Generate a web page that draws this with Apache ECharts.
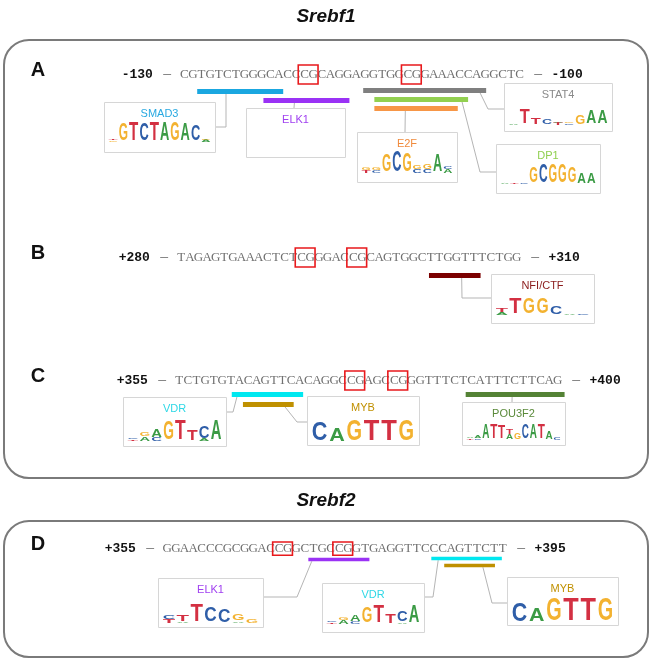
<!DOCTYPE html>
<html><head><meta charset="utf-8">
<script src="https://cdn.jsdelivr.net/npm/echarts@6/dist/echarts.min.js"></script>
<style>html,body{margin:0;padding:0;background:#fff}#c{width:653px;height:661px}</style>
</head><body><div id="c"></div>
<script>
// ---------------- DATA ----------------
const panelLetters = ['A', 'B', 'C', 'D'];
const geneTitles = ['Srebf1', 'Srebf2'];
const startLabels = ['-130', '+280', '+355', '+355'];
const endLabels = ['-100', '+310', '+400', '+395'];
const sequences = [
  'CGTGTCTGGGCACCCGCAGGAGGTGGCGGAAACCAGGCTC',
  'TAGAGTGAAACTCTCGGGACCGCAGTGGCTTGGTTTCTGG',
  'TCTGTGTACAGTTCACAGGCCGAGCCGGGTTTCTCATTTCTTCAG',
  'GGAACCCGCGGACCGGCTGCCGGTGAGGTTCCCAGTTCTT'
];
const cpgStarts = [[14, 26], [14, 20], [20, 25], [13, 20]];

const tfNames  = ['SMAD3', 'ELK1', 'STAT4', 'DP1', 'E2F', 'NFI/CTF', 'VDR', 'MYB', 'POU3F2', 'ELK1', 'VDR', 'MYB'];
const tfRows   = [0, 0, 0, 0, 0, 1, 2, 2, 2, 3, 3, 3];
const tfStarts = [2.0, 9.7, 21.3, 22.6, 22.6, 29.3, 6.6, 7.9, 33.8, 16.9, 31.2, 32.7];
const tfEnds   = [12.0, 19.7, 35.6, 33.5, 32.3, 35.3, 14.9, 13.8, 45.3, 24.0, 39.4, 38.6];

// motif logos: columns, each column = stack of [letter, relative height] from bottom to top
const logoSMAD3 = [[['G',0.08],['T',0.06]], [['G',0.9]], [['T',0.95]], [['C',0.9]], [['T',0.95]], [['A',0.95]], [['G',0.95]], [['A',0.9]], [['C',0.85]], [['A',0.12],['G',0.06]]];
const logoELK1a = [];
const logoSTAT4 = [[['A',0.05]], [['T',0.75]], [['T',0.35]], [['C',0.3]], [['T',0.1],['A',0.08]], [['C',0.08],['G',0.08]], [['G',0.45]], [['A',0.7]], [['A',0.7]]];
const logoDP1   = [[['A',0.04]], [['T',0.04]], [['C',0.06]], [['G',0.75]], [['C',0.9]], [['G',0.85]], [['G',0.85]], [['G',0.75]], [['A',0.5]], [['A',0.5]]];
const logoE2F   = [[['T',0.12],['G',0.12]], [['C',0.12],['G',0.14]], [['G',0.8]], [['C',0.95]], [['G',0.85]], [['C',0.15],['G',0.2]], [['C',0.15],['G',0.25]], [['A',0.8]], [['A',0.15],['C',0.12]]];
const logoNFI   = [[['A',0.15],['T',0.22]], [['T',0.95]], [['G',0.95]], [['G',0.95]], [['C',0.45]], [['A',0.05]], [['C',0.04]]];
const logoVDR   = [[['T',0.08],['C',0.05]], [['A',0.2],['G',0.15]], [['C',0.15],['A',0.35]], [['G',0.9]], [['T',0.95]], [['T',0.5]], [['A',0.1],['C',0.55]], [['A',0.95]]];
const logoMYB   = [[['C',0.85]], [['A',0.6]], [['G',1.0]], [['T',1.0]], [['T',1.0]], [['G',1.0]]];
const logoPOU3F2 = [[['T',0.1],['A',0.08]], [['C',0.1],['A',0.15]], [['A',0.85]], [['T',0.85]], [['T',0.8]], [['A',0.3],['T',0.3]], [['G',0.35]], [['C',0.85]], [['A',0.85]], [['T',0.85]], [['A',0.45]], [['C',0.12]]];
const logoELK1d = [[['T',0.2],['C',0.2]], [['A',0.05],['T',0.35]], [['T',0.95]], [['C',0.8]], [['C',0.7]], [['A',0.1],['G',0.35]], [['G',0.2]]];
const tfLogos = [logoSMAD3, logoELK1a, logoSTAT4, logoDP1, logoE2F, logoNFI, logoVDR, logoMYB, logoPOU3F2, logoELK1d, logoVDR, logoMYB];

// ---------------- LAYOUT / STYLE ----------------
const CHAR_W = 8.6;
const rowLayout = [{x:180, y:75}, {x:177, y:258}, {x:175, y:381}, {x:163, y:561}];
const tfStyle = [
  {color:'#1aa7e0', title:'#29a9e1', bar:16.5, anchor:5.35, box:[104,102,111,50], path:[[226,127],[215,127]], h:19, base:10},
  {color:'#9a32f5', title:'#a040f0', bar:25.5, anchor:13.3, box:[246,108,99,49], path:[[294,108]], h:18, base:8},
  {color:'#7f7f7f', title:'#8a8a8a', bar:15.5, anchor:34.9, box:[504,83,108,48], path:[[488,109],[504,109]], h:19, base:6},
  {color:'#92d050', title:'#8fcf4e', bar:24.5, anchor:32.8, box:[496,144,104,49], path:[[480,172],[496,172]], h:21, base:9},
  {color:'#f79646', title:'#f08a3c', bar:33.5, anchor:26.2, box:[357,132,100,50], path:[[405,132]], h:22, base:9},
  {color:'#7b0000', title:'#8b1c1c', bar:17.5, anchor:33.1, box:[491,274,103,49], path:[[462,298],[491,298]], h:16, base:8},
  {color:'#00e8f0', title:'#2fd8e6', bar:13.5, anchor:7.2, box:[123,397,103,49], path:[[233,412],[226,412]], h:21, base:5},
  {color:'#bf9000', title:'#c09000', bar:23.5, anchor:12.8, box:[307,396,112,49], path:[[297,422],[307,422]], h:21, base:3},
  {color:'#548235', title:'#5a8a3a', bar:13.5, anchor:39.2, box:[462,402,103,43], path:[[512,402]], h:17, base:5},
  {color:'#9a32f5', title:'#a040f0', bar:15, anchor:17.3, box:[158,578,105,49], path:[[297,597],[263,597]], h:18, base:4},
  {color:'#00e8f0', title:'#2fd8e6', bar:13.5, anchor:32.0, box:[322,583,102,49], path:[[433,597],[424,597]], h:18, base:8},
  {color:'#bf9000', title:'#c09000', bar:23.5, anchor:37.2, box:[507,577,111,48], path:[[492,603],[507,603]], h:22, base:2}
];
const letterColor = {A:'#3b9b45', C:'#2f5ea8', G:'#f3b230', T:'#d33042'};
const glyphW = {A:0.722, C:0.722, G:0.778, T:0.611};
const F0 = 40, CAP = 0.716;
const seqFont = '13px "Liberation Serif", "DejaVu Serif", serif';

// ---------------- BUILD ----------------
const grids = [], xAxes = [], yAxes = [], series = [];
sequences.forEach((seq, r) => {
  const L = rowLayout[r];
  grids.push({left:L.x, top:L.y - 40, width:seq.length * CHAR_W, height:200});
  xAxes.push({type:'value', gridIndex:r, min:0, max:seq.length, show:false});
  yAxes.push({type:'value', gridIndex:r, min:-40, max:160, inverse:true, show:false});

  const tfData = [];
  tfNames.forEach((n, k) => { if (tfRows[k] === r) tfData.push([tfStarts[k], tfEnds[k], k]); });
  series.push({
    type:'custom', xAxisIndex:r, yAxisIndex:r, clip:false, z:2,
    data: tfData,
    renderItem: (params, api) => {
      const k = api.value(2), st = tfStyle[k];
      const p0 = api.coord([api.value(0), st.bar - 2.5]);
      const p1 = api.coord([api.value(1), st.bar + 2.5]);
      const a = api.coord([st.anchor, st.bar + 2.5]);
      const [bx, by, bw, bh] = st.box;
      const ch = [];
      ch.push({type:'polyline', shape:{points:[a].concat(st.path)}, style:{stroke:'#b5b5b5', lineWidth:1, fill:null}});
      ch.push({type:'rect', shape:{x:p0[0], y:p0[1], width:p1[0]-p0[0], height:p1[1]-p0[1]}, style:{fill:st.color}});
      ch.push({type:'rect', shape:{x:bx+0.5, y:by+0.5, width:bw, height:bh}, style:{fill:'#fff', stroke:'#d6d6d6', lineWidth:1}});
      ch.push({type:'text', x:bx + bw/2, y:by + 12, style:{text:tfNames[k], fill:st.title, font:'11px "Liberation Sans", Arial', align:'center', verticalAlign:'middle'}});
      const logo = tfLogos[k];
      if (logo.length) {
        const x0 = bx + 4, x1 = bx + bw - 4, base = by + bh - st.base;
        const cw = (x1 - x0) / logo.length;
        logo.forEach((col, ci) => {
          let cum = 0;
          const cx = x0 + cw * (ci + 0.5);
          col.forEach(([letter, frac]) => {
            const hh = frac * st.h;
            const cy = base - cum - hh / 2;
            cum += hh;
            ch.push({type:'text', x:cx, y:cy, scaleX:(cw * 0.9) / (glyphW[letter] * F0), scaleY:hh / (CAP * F0),
              style:{text:letter, fill:letterColor[letter], font:'bold ' + F0 + 'px "Liberation Sans", Arial', align:'center', verticalAlign:'middle'}});
          });
        });
      }
      return {type:'group', children:ch};
    }
  });

  series.push({
    type:'custom', xAxisIndex:r, yAxisIndex:r, clip:false, z:3,
    data: seq.split('').map((c, i) => [i]),
    renderItem: (params, api) => {
      const i = api.value(0);
      const p = api.coord([i + 0.5, 0]);
      return {type:'text', x:p[0], y:p[1], style:{text:seq[i], fill:'#707070', font:seqFont, align:'center', verticalAlign:'middle'}};
    }
  });

  series.push({
    type:'custom', xAxisIndex:r, yAxisIndex:r, clip:false, z:4,
    data: cpgStarts[r].map(s => [s]),
    renderItem: (params, api) => {
      const s = api.value(0);
      const a = api.coord([s - 0.25, -10]), b = api.coord([s + 2.05, 9]);
      return {type:'rect', shape:{x:a[0], y:a[1], width:b[0]-a[0], height:b[1]-a[1]}, style:{fill:null, stroke:'#e8191c', lineWidth:1.6}};
    }
  });

  series.push({
    type:'custom', xAxisIndex:r, yAxisIndex:r, clip:false, z:4,
    data: [[seq.length]],
    renderItem: (params, api) => {
      const n = api.value(0);
      const s = api.coord([-3.15, 0]), d1 = api.coord([-1.5, 0]), d2 = api.coord([n + 1.65, 0]), e = api.coord([n + 3.2, 0]);
      const bold = 'bold 13px "Liberation Mono", monospace';
      return {type:'group', children:[
        {type:'text', x:s[0], y:s[1], style:{text:startLabels[r], fill:'#111', font:bold, align:'right', verticalAlign:'middle'}},
        {type:'text', x:d1[0], y:d1[1], style:{text:'—', fill:'#777', font:'13px "Liberation Mono", monospace', align:'center', verticalAlign:'middle'}},
        {type:'text', x:d2[0], y:d2[1], style:{text:'—', fill:'#777', font:'13px "Liberation Mono", monospace', align:'center', verticalAlign:'middle'}},
        {type:'text', x:e[0], y:e[1], style:{text:endLabels[r], fill:'#111', font:bold, align:'left', verticalAlign:'middle'}},
        {type:'text', x:38, y:s[1] - 5, style:{text:panelLetters[r], fill:'#111', font:'bold 20px "Liberation Sans", Arial', align:'center', verticalAlign:'middle'}}
      ]};
    }
  });
});

const chart = echarts.init(document.getElementById('c'), null, {renderer:'canvas'});
chart.setOption({
  animation:false,
  backgroundColor:'#fff',
  grid:grids, xAxis:xAxes, yAxis:yAxes, series:series,
  graphic:[
    {type:'text', x:326, y:17, style:{text:geneTitles[0], fill:'#111', font:'italic bold 19px "Liberation Sans", Arial', align:'center', verticalAlign:'middle'}},
    {type:'rect', shape:{x:4, y:40, width:644, height:438, r:25}, style:{fill:null, stroke:'#7a7a7a', lineWidth:2}},
    {type:'text', x:326, y:501, style:{text:geneTitles[1], fill:'#111', font:'italic bold 19px "Liberation Sans", Arial', align:'center', verticalAlign:'middle'}},
    {type:'rect', shape:{x:4, y:521, width:644, height:136, r:25}, style:{fill:null, stroke:'#7a7a7a', lineWidth:2}}
  ]
});
</script></body></html>
